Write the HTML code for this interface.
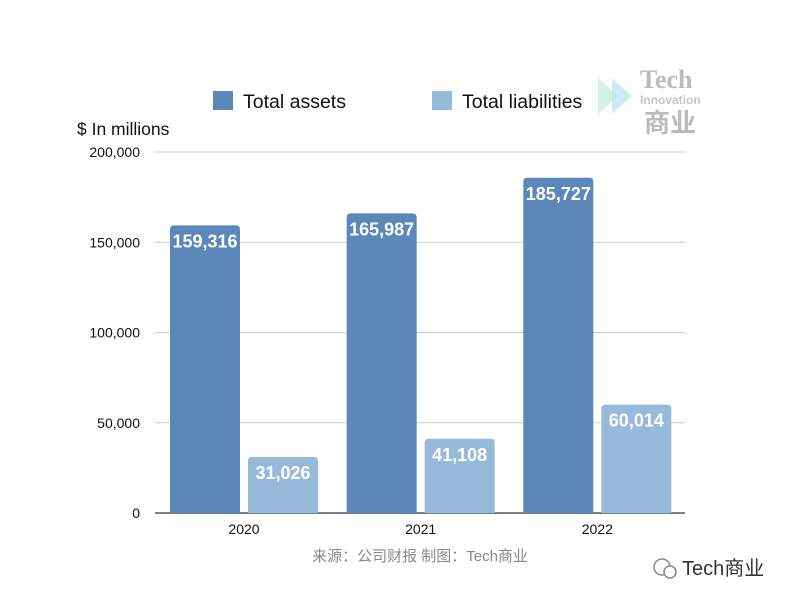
<!DOCTYPE html>
<html><head><meta charset="utf-8"><style>
body{margin:0;background:#fff;width:790px;height:602px;overflow:hidden;font-family:"Liberation Sans","Noto Sans CJK SC",sans-serif;}
</style></head><body>
<svg width="790" height="602" font-family="Liberation Sans, Noto Sans CJK SC, sans-serif">
<g>
<path d="M598 78 L618 96 L598 114 Z" fill="#c9eede" opacity="0.8"/>
<path d="M612 78 L632 96 L612 114 Z" fill="#b7e3f0" opacity="0.7"/>
<text x="640" y="88" font-size="26" font-weight="bold" fill="#bbb" font-family="Liberation Serif, serif">Tech</text>
<text x="640" y="104" font-size="12" font-weight="bold" fill="#c6c6c6">Innovation</text>
<text x="644" y="132" font-size="26" font-weight="bold" fill="#bbb">商业</text>
</g>
<g>
<rect x="213" y="91" width="20" height="19" fill="#5b87b9"/>
<text x="243" y="108" font-size="19.5" fill="#111">Total assets</text>
<rect x="432" y="91" width="20" height="19" fill="#98bada"/>
<text x="462" y="108" font-size="19.5" fill="#111">Total liabilities</text>
</g>
<text x="77" y="135" font-size="17.5" fill="#111">$ In millions</text>
<g id="grid"></g><g id="bars"></g><g id="labels"></g>
<text x="420" y="561" text-anchor="middle" font-size="15" fill="#888">来源：公司财报 制图：Tech商业</text>
<g>
<circle cx="662" cy="567" r="8" fill="none" stroke="#888" stroke-width="1.5"/>
<circle cx="670" cy="572" r="6" fill="#fff" stroke="#888" stroke-width="1.5"/>
<text x="682" y="575" font-size="20" fill="#333">Tech商业</text>
</g>
</svg>
<script>
const categories=["2020","2021","2022"];
const assets=[159316,165987,185727];
const liabilities=[31026,41108,60014];
const yTicks=[0,50000,100000,150000,200000];
const NS="http://www.w3.org/2000/svg";
const x0=155,x1=685,yZero=513,yTop=152,yMax=200000;
const y=v=>yZero-(v/yMax)*(yZero-yTop);
const groupW=(x1-x0)/categories.length;
function mk(t,a,p){const e=document.createElementNS(NS,t);for(const k in a)e.setAttribute(k,a[k]);document.getElementById(p).appendChild(e);return e;}
yTicks.forEach(v=>{
 const l=mk("line",{x1:x0,x2:x1,y1:y(v),y2:y(v),stroke:v===0?"#333":"#ccc","stroke-width":v===0?1.2:1},"grid");
 
 
 const t=mk("text",{x:140,y:y(v)+5,"text-anchor":"end","font-size":14,fill:"#111"},"grid");
 t.textContent=v.toLocaleString("en-US");
 
 
});
function barPath(x,w,top,bot,r){return `M${x} ${bot}V${top+r}Q${x} ${top} ${x+r} ${top}H${x+w-r}Q${x+w} ${top} ${x+w} ${top+r}V${bot}Z`;}
categories.forEach((c,i)=>{
 const gx=x0+i*groupW;
 [[assets[i],"#5b87b9",15,'bar-assets'],[liabilities[i],"#98bada",93,'bar-liabilities']].forEach(([v,col,off,nm])=>{
  const bx=gx+off,w=70;
  const b=mk("path",{d:barPath(bx,w,y(v),yZero,4),fill:col},"bars");
  
  
  const t=mk("text",{x:bx+w/2,y:y(v)+22,"text-anchor":"middle","font-size":18,"font-weight":"bold",fill:"#fff"},"labels");
  t.textContent=v.toLocaleString("en-US");
  
  
 });
 const t=mk("text",{x:gx+15+74,y:534,"text-anchor":"middle","font-size":14,fill:"#111"},"labels");
 t.textContent=c;
 
 
});
</script>
</body></html>
